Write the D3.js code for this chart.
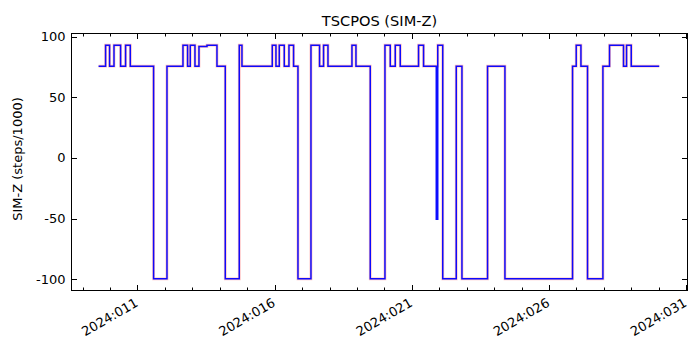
<!DOCTYPE html>
<html>
<head>
<meta charset="utf-8">
<script src="https://cdn.jsdelivr.net/npm/d3@7"></script>
<style>
  html, body { margin: 0; padding: 0; background: #fff; }
  svg { display: block; font-family: "DejaVu Sans", sans-serif; }
</style>
</head>
<body>
<svg id="chart" width="700" height="350"></svg>
<script>
// SIM-Z translation table position, day-of-year 2024 (step changes)
const dayOfYear = [
  9.582, 9.837, 9.983, 10.144, 10.384, 10.566, 10.738, 11.587, 12.075, 12.658,
  12.826, 12.924, 13.095, 13.241, 13.533, 13.897, 14.200, 14.710, 14.808, 15.913,
  16.047, 16.168, 16.350, 16.521, 16.689, 16.849, 17.323, 17.636, 17.782, 17.943,
  18.817, 18.963, 19.484, 20.020, 20.213, 20.395, 20.577, 21.244, 21.427, 21.890,
  21.944, 22.126, 22.618, 22.826, 23.759, 24.393, 26.857, 26.991, 27.163, 27.403,
  27.964, 28.205, 28.715, 28.825, 28.996, 30.017
];
// commanded (predicted) position, steps/1000
const predictedZ = [
  75.624, 92.904, 75.624, 92.904, 75.624, 92.904, 75.624, -99.616, 75.624, 92.904,
  75.624, 92.904, 75.624, 91.9, 92.904, 75.624, -99.616, 92.904, 75.624, 92.904,
  75.624, 92.904, 75.624, 92.904, 75.624, -99.616, 92.904, 75.624, 92.904, 75.624,
  92.904, 75.624, -99.616, 92.904, 75.624, 92.904, 75.624, 92.904, 75.624, 75.624,
  92.904, -99.616, 75.624, -99.616, 75.624, -99.616, 75.624, 92.904, 75.624, -99.616,
  75.624, 92.904, 75.624, 92.904, 75.624, 75.624
];
// telemetered position, steps/1000
const telemetryZ = [
  75.624, 92.904, 75.624, 92.904, 75.624, 92.904, 75.624, -99.616, 75.624, 92.904,
  75.624, 92.904, 75.624, 91.9, 92.904, 75.624, -99.616, 92.904, 75.624, 92.904,
  75.624, 92.904, 75.624, 92.904, 75.624, -99.616, 92.904, 75.624, 92.904, 75.624,
  92.904, 75.624, -99.616, 92.904, 75.624, 92.904, 75.624, 92.904, 75.624, -50.505,
  92.904, -99.616, 75.624, -99.616, 75.624, -99.616, 75.624, 92.904, 75.624, -99.616,
  75.624, 92.904, 75.624, 92.904, 75.624, 75.624
];
const xTickDays = [11, 16, 21, 26, 31];
const xTickLabels = ["2024:011", "2024:016", "2024:021", "2024:026", "2024:031"];
const xMinorDays = d3.range(9, 32);
const yTicks = [-100, -50, 0, 50, 100];

const svg = d3.select("#chart");
const m = { left: 71.5, right: 687.5, top: 33.5, bottom: 290.5 };

const x = d3.scaleLinear().domain([8.595, 31.047]).range([m.left, m.right]);
const y = d3.scaleLinear().domain([-109.25, 102.53]).range([m.bottom, m.top]);

const g = svg.append("g");

// clip for the data lines
svg.append("defs").append("clipPath").attr("id", "plotClip")
  .append("rect").attr("x", m.left).attr("y", m.top)
  .attr("width", m.right - m.left).attr("height", m.bottom - m.top);

const lineOf = vals => d3.line()
  .x((d, i) => x(dayOfYear[i]))
  .y((d) => y(d))
  .curve(d3.curveStepAfter)(vals);

const plot = g.append("g").attr("clip-path", "url(#plotClip)");
plot.append("path")
  .attr("d", lineOf(predictedZ))
  .attr("fill", "none")
  .attr("stroke", "#ff0000")
  .attr("stroke-opacity", 0.25)
  .attr("stroke-width", 2.8);
plot.append("path")
  .attr("d", lineOf(telemetryZ))
  .attr("fill", "none")
  .attr("stroke", "#0000ff")
  .attr("stroke-opacity", 0.95)
  .attr("stroke-width", 1.5);

// inward ticks on all four sides
const tickG = g.append("g").attr("stroke", "#000").attr("stroke-width", 1);
xTickDays.forEach(d => {
  const px = Math.round(x(d)) + 0.5;
  tickG.append("line").attr("x1", px).attr("x2", px).attr("y1", m.bottom).attr("y2", m.bottom - 5.5);
  tickG.append("line").attr("x1", px).attr("x2", px).attr("y1", m.top).attr("y2", m.top + 5.5);
});
xMinorDays.filter(d => !xTickDays.includes(d)).forEach(d => {
  const px = Math.round(x(d)) + 0.5;
  tickG.append("line").attr("x1", px).attr("x2", px).attr("y1", m.bottom).attr("y2", m.bottom - 3);
  tickG.append("line").attr("x1", px).attr("x2", px).attr("y1", m.top).attr("y2", m.top + 3);
});
yTicks.forEach(v => {
  const py = Math.round(y(v)) + 0.5;
  tickG.append("line").attr("x1", m.left).attr("x2", m.left + 5.5).attr("y1", py).attr("y2", py);
  tickG.append("line").attr("x1", m.right).attr("x2", m.right - 5.5).attr("y1", py).attr("y2", py);
});

// frame
g.append("rect")
  .attr("x", m.left).attr("y", m.top)
  .attr("width", m.right - m.left).attr("height", m.bottom - m.top)
  .attr("fill", "none").attr("stroke", "#000").attr("stroke-width", 1);

// y tick labels
g.append("g").selectAll("text").data(yTicks).join("text")
  .attr("x", m.left - 6)
  .attr("y", d => y(d))
  .attr("dy", "0.35em")
  .attr("text-anchor", "end")
  .attr("font-size", 13)
  .text(d => d);

// x tick labels, rotated
g.append("g").selectAll("text").data(xTickDays).join("text")
  .attr("text-anchor", "end")
  .attr("font-size", 13)
  .attr("transform", d => `translate(${x(d) - 3},${m.bottom + 7}) rotate(-30)`)
  .attr("dy", "0.7em")
  .text((d, i) => xTickLabels[i]);

// title
g.append("text")
  .attr("x", (m.left + m.right) / 2)
  .attr("y", 26)
  .attr("text-anchor", "middle")
  .attr("font-size", 14.6)
  .text("TSCPOS (SIM-Z)");

// y label
g.append("text")
  .attr("transform", `translate(22,${(m.top + m.bottom) / 2 - 3}) rotate(-90)`)
  .attr("text-anchor", "middle")
  .attr("font-size", 13)
  .text("SIM-Z (steps/1000)");
</script>
</body>
</html>
